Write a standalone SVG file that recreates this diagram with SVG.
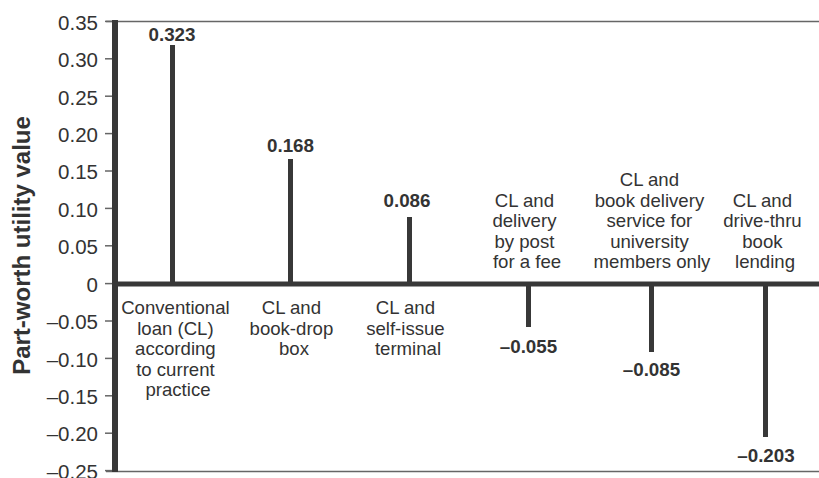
<svg xmlns="http://www.w3.org/2000/svg" width="819" height="478" viewBox="0 0 819 478">
  <style>
    .tick { stroke: #666; stroke-width: 1.5; }
    .frame { stroke: #666; stroke-width: 1.5; }
    .axis { stroke: #383838; stroke-width: 6; }
    .bar { stroke: #383838; stroke-width: 5; }
    .tl { font-family: "Liberation Sans", Arial, sans-serif; font-size: 20.5px; fill: #333; text-anchor: end; }
    .cat { font-family: "Liberation Sans", Arial, sans-serif; font-size: 18.6px; fill: #333; text-anchor: middle; }
    .val { font-family: "Liberation Sans", Arial, sans-serif; font-size: 18.8px; font-weight: bold; fill: #333; text-anchor: middle; }
    .ylab { font-family: "Liberation Sans", Arial, sans-serif; font-size: 24px; font-weight: bold; fill: #333; text-anchor: middle; }
  </style>
  <rect width="819" height="478" fill="#fff"/>

  <!-- frame lines -->
  <g id="frame">
    <line class="frame" x1="106" y1="21.4" x2="819" y2="21.4"/>
    <line class="frame" x1="106" y1="471.6" x2="819" y2="471.6"/>
  </g>

  <!-- y axis with ticks and labels -->
  <g id="y-axis">
    <line class="tick" x1="105" y1="21.4" x2="113" y2="21.4"/>
    <line class="tick" x1="105" y1="58.8" x2="113" y2="58.8"/>
    <line class="tick" x1="105" y1="96.2" x2="113" y2="96.2"/>
    <line class="tick" x1="105" y1="133.6" x2="113" y2="133.6"/>
    <line class="tick" x1="105" y1="171" x2="113" y2="171"/>
    <line class="tick" x1="105" y1="208.4" x2="113" y2="208.4"/>
    <line class="tick" x1="105" y1="245.8" x2="113" y2="245.8"/>
    <line class="tick" x1="105" y1="283.6" x2="113" y2="283.6"/>
    <line class="tick" x1="105" y1="321" x2="113" y2="321"/>
    <line class="tick" x1="105" y1="358.4" x2="113" y2="358.4"/>
    <line class="tick" x1="105" y1="395.8" x2="113" y2="395.8"/>
    <line class="tick" x1="105" y1="433.2" x2="113" y2="433.2"/>
    <line class="tick" x1="105" y1="470.6" x2="113" y2="470.6"/>
    <text class="tl" x="98" y="29.8">0.35</text>
    <text class="tl" x="98" y="67.2">0.30</text>
    <text class="tl" x="98" y="104.6">0.25</text>
    <text class="tl" x="98" y="142">0.20</text>
    <text class="tl" x="98" y="179.4">0.15</text>
    <text class="tl" x="98" y="216.8">0.10</text>
    <text class="tl" x="98" y="254.2">0.05</text>
    <text class="tl" x="98" y="291.8">0</text>
    <text class="tl" x="98" y="329.2">–0.05</text>
    <text class="tl" x="98" y="366.6">–0.10</text>
    <text class="tl" x="98" y="404">–0.15</text>
    <text class="tl" x="98" y="441.4">–0.20</text>
    <text class="tl" x="98" y="478.8">–0.25</text>
    <text class="ylab" transform="translate(30,245.5) rotate(-90)">Part-worth utility value</text>
    <line class="axis" x1="115" y1="20" x2="115" y2="472"/>
  </g>

  <!-- value bars and zero line -->
  <g id="connectors">
    <line class="bar" x1="172.5" y1="45" x2="172.5" y2="284"/>
    <line class="bar" x1="290.5" y1="159" x2="290.5" y2="284"/>
    <line class="bar" x1="409.5" y1="217" x2="409.5" y2="284"/>
    <line class="bar" x1="528.5" y1="284" x2="528.5" y2="327"/>
    <line class="bar" x1="651.5" y1="284" x2="651.5" y2="352"/>
    <line class="bar" x1="765.5" y1="284" x2="765.5" y2="437"/>
    <line class="bar" x1="112" y1="284" x2="819" y2="284"/>
  </g>

  <g id="item-conventional">
    <text class="val" x="172" y="40.7">0.323</text>
    <text class="cat" x="178" y="314">
      <tspan x="178">Conventional</tspan>
      <tspan x="178" dy="20.5">loan (CL)</tspan>
      <tspan x="178" dy="20.5">according</tspan>
      <tspan x="178" dy="20.5">to current</tspan>
      <tspan x="178" dy="20.5">practice</tspan>
    </text>
  </g>

  <g id="item-book-drop">
    <text class="val" x="290.5" y="151.5">0.168</text>
    <text class="cat" x="294" y="314">
      <tspan x="294">CL and</tspan>
      <tspan x="294" dy="20.5">book-drop</tspan>
      <tspan x="294" dy="20.5">box</tspan>
    </text>
  </g>

  <g id="item-self-issue">
    <text class="val" x="407" y="207.3">0.086</text>
    <text class="cat" x="408" y="314">
      <tspan x="408">CL and</tspan>
      <tspan x="408" dy="20.5">self-issue</tspan>
      <tspan x="408" dy="20.5">terminal</tspan>
    </text>
  </g>

  <g id="item-post">
    <text class="val" x="528.5" y="352.5">–0.055</text>
    <text class="cat" x="527" y="206.5">
      <tspan x="527">CL and</tspan>
      <tspan x="527" dy="20.5">delivery</tspan>
      <tspan x="527" dy="20.5">by post</tspan>
      <tspan x="527" dy="20.5">for a fee</tspan>
    </text>
  </g>

  <g id="item-university">
    <text class="val" x="651.5" y="376">–0.085</text>
    <text class="cat" x="652" y="186">
      <tspan x="652">CL and</tspan>
      <tspan x="652" dy="20.5">book delivery</tspan>
      <tspan x="652" dy="20.5">service for</tspan>
      <tspan x="652" dy="20.5">university</tspan>
      <tspan x="652" dy="20.5">members only</tspan>
    </text>
  </g>

  <g id="item-drive-thru">
    <text class="val" x="766" y="462">–0.203</text>
    <text class="cat" x="765" y="206.5">
      <tspan x="765">CL and</tspan>
      <tspan x="765" dy="20.5">drive-thru</tspan>
      <tspan x="765" dy="20.5">book</tspan>
      <tspan x="765" dy="20.5">lending</tspan>
    </text>
  </g>
</svg>
